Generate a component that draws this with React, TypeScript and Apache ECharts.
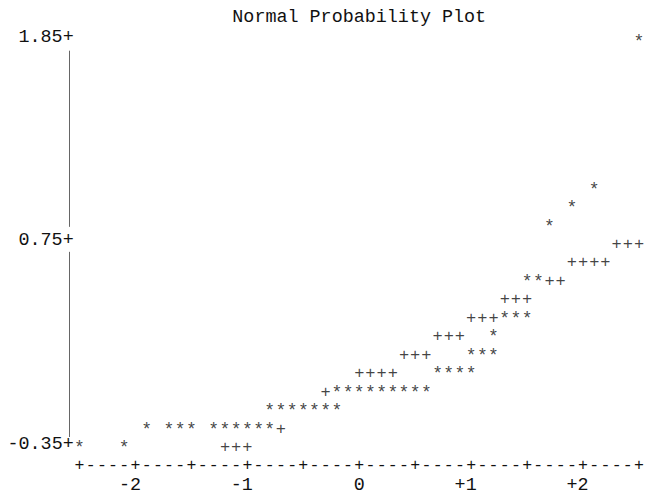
import React, { useEffect, useRef } from "react";
import * as echarts from "echarts";

const chartTitle = "Normal Probability Plot";
const xRange = [-2.5, 2.5];
const yRange = [-0.35, 1.85];
const xColumnStep = 0.1;
const xMajorStep = 0.5;
const yRowStep = 0.05;
const yTickLabels = [-0.35, 0.75, 1.85];
const xTickLabels = [-2, -1, 0, 1, 2];

// observed values (*): normal quantile, data value
const dataX = [
  -2.5, -2.1,
  -1.9, -1.7, -1.6, -1.5, -1.3, -1.2, -1.1, -1.0, -0.9, -0.8,
  -0.8, -0.7, -0.6, -0.5, -0.4, -0.3, -0.2,
  -0.2, -0.1, 0.0, 0.1, 0.2, 0.3, 0.4, 0.5, 0.6,
  0.7, 0.8, 0.9, 1.0,
  1.0, 1.1, 1.2,
  1.2,
  1.3, 1.4, 1.5,
  1.5, 1.6,
  1.7, 1.9, 2.1, 2.5,
];
const dataY = [
  -0.35, -0.35,
  -0.25, -0.25, -0.25, -0.25, -0.25, -0.25, -0.25, -0.25, -0.25, -0.25,
  -0.15, -0.15, -0.15, -0.15, -0.15, -0.15, -0.15,
  -0.05, -0.05, -0.05, -0.05, -0.05, -0.05, -0.05, -0.05, -0.05,
  0.05, 0.05, 0.05, 0.05,
  0.15, 0.15, 0.15,
  0.25,
  0.35, 0.35, 0.35,
  0.55, 0.55,
  0.85, 0.95, 1.05, 1.85,
];

// reference line (+): visible cells only
const refX = [
  -1.2, -1.1, -1.0,
  -0.7,
  -0.3,
  0.0, 0.1, 0.2, 0.3,
  0.4, 0.5, 0.6,
  0.7, 0.8, 0.9,
  1.0, 1.1, 1.2,
  1.3, 1.4, 1.5,
  1.7, 1.8,
  1.9, 2.0, 2.1, 2.2,
  2.3, 2.4, 2.5,
];
const refY = [
  -0.35, -0.35, -0.35,
  -0.25,
  -0.05,
  0.05, 0.05, 0.05, 0.05,
  0.15, 0.15, 0.15,
  0.25, 0.25, 0.25,
  0.35, 0.35, 0.35,
  0.45, 0.45, 0.45,
  0.55, 0.55,
  0.65, 0.65, 0.65, 0.65,
  0.75, 0.75, 0.75,
];

const FONT = '"Liberation Mono", "Courier New", monospace';
const FS = 18.4;
const INK = "#111";

const near = (v: number, list: number[]) => list.some((t) => Math.abs(t - v) < 1e-6);

export default function App() {
  const ref = useRef<HTMLDivElement>(null);
  useEffect(() => {
    const chart = echarts.init(ref.current!, null, { renderer: "svg" });
    const txt = { fontFamily: FONT, fontSize: FS, color: INK, lineHeight: FS };
    const hidden = { axisLine: { show: false }, axisTick: { show: false }, splitLine: { show: false } };
    chart.setOption({
      animation: false,
      backgroundColor: "#ffffff",
      grid: { left: 79.5, right: 6, top: 37.7, bottom: 51, containLabel: false, outerBoundsMode: "none" },
      xAxis: [
        {
          type: "value", position: "bottom", min: xRange[0], max: xRange[1], interval: xColumnStep, ...hidden,
          axisLabel: {
            ...txt, fontSize: 16.5, lineHeight: 14, interval: 0, margin: 14.4,
            formatter: (v: number) => {
              const k = v / xMajorStep;
              return Math.abs(k - Math.round(k)) < 1e-6 ? "+" : "-";
            },
          },
        },
        {
          type: "value", position: "bottom", min: xRange[0], max: xRange[1], interval: xMajorStep, ...hidden,
          axisLabel: {
            ...txt, lineHeight: 14, interval: 0, margin: 34.4,
            formatter: (v: number) => {
              if (!near(v, xTickLabels)) return "";
              const s = (v > 0 ? "+" : "") + Math.round(v);
              return s + "\u00a0".repeat(s.length - 1);
            },
          },
        },
      ],
      yAxis: {
        type: "value", min: yRange[0], max: yRange[1], interval: yRowStep, ...hidden,
        axisLabel: {
          ...txt, lineHeight: 14, margin: 5.8,
          formatter: (v: number) => (near(v, yTickLabels) ? v.toFixed(2) + "+" : ""),
        },
      },
      series: [
        {
          type: "scatter", silent: true, z: 2,
          data: refX.map((x, i) => [x, refY[i]]),
          symbol: "circle", symbolSize: 1, itemStyle: { color: "rgba(0,0,0,0)" },
          label: { show: true, position: "inside", formatter: "+", ...txt, fontSize: 17, lineHeight: 13, offset: [0, 3.5] },
          emphasis: { disabled: true },
        },
        {
          type: "scatter", silent: true, z: 3,
          data: dataX.map((x, i) => [x, dataY[i]]),
          symbol: "circle", symbolSize: 1, itemStyle: { color: "rgba(0,0,0,0)" },
          label: { show: true, position: "inside", formatter: "*", ...txt, fontSize: 18, lineHeight: 13, offset: [0, 4.3] },
          emphasis: { disabled: true },
        },
      ],
    });

    const px = (x: number) => chart.convertToPixel({ xAxisIndex: 0 }, x) as number;
    const py = (y: number) => chart.convertToPixel({ yAxisIndex: 0 }, y) as number;
    const ax = Math.round(px(xRange[0]) - 10.5) + 0.5;
    const ys = [...yTickLabels].sort((a, b) => b - a).map(py);
    const lineStyle = { stroke: "#666", lineWidth: 1 };
    chart.setOption({
      title: {
        text: chartTitle, left: px(0), top: 8, padding: 0, textAlign: "center",
        textStyle: { fontFamily: FONT, fontSize: FS, fontWeight: "normal", color: INK, lineHeight: FS },
      },
      graphic: [
        { type: "line", silent: true, shape: { x1: ax, y1: ys[0] + 13, x2: ax, y2: ys[1] - 14 }, style: lineStyle },
        { type: "line", silent: true, shape: { x1: ax, y1: ys[1] + 11, x2: ax, y2: ys[2] - 7 }, style: lineStyle },
      ],
    });

    return () => chart.dispose();
  }, []);
  return (
    <div
      ref={ref}
      style={{ position: "fixed", left: 0, top: 0, width: 645, height: 495, background: "#fff" }}
    />
  );
}
